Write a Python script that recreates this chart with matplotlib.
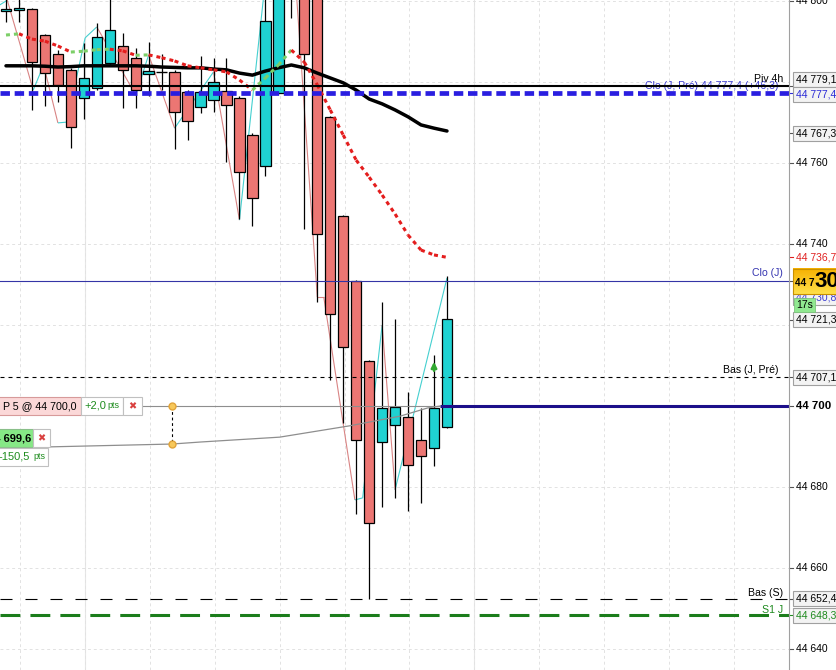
import numpy as np
import matplotlib.pyplot as plt
from matplotlib.patches import Rectangle
from matplotlib.collections import LineCollection
from matplotlib.colors import LinearSegmentedColormap

plt.rcParams['font.family'] = ['Liberation Sans', 'DejaVu Sans']

# candles, oldest -> newest
opens = [44797.5, 44797.8, 44798.0, 44791.6, 44786.9, 44783.0, 44776.0, 44778.5, 44784.7, 44788.9,
         44785.9, 44782.0, 44782.5, 44782.5, 44777.5, 44773.8, 44775.6, 44777.8, 44776.0, 44766.9,
         44759.3, 44777.3, 44812.0, 44806.0, 44803.0, 44771.4, 44746.9, 44730.9, 44711.1, 44691.1,
         44695.3, 44697.3, 44691.6, 44689.6, 44694.8]
highs = [44800.5, 44801.0, 44798.2, 44791.8, 44788.0, 44783.5, 44789.6, 44794.6, 44801.0, 44792.1,
         44788.4, 44789.9, 44786.9, 44783.0, 44778.0, 44786.4, 44785.9, 44785.9, 44776.5, 44767.5,
         44803.0, 44810.0, 44815.0, 44808.0, 44805.0, 44771.6, 44747.2, 44731.2, 44711.4, 44725.7,
         44721.5, 44703.5, 44699.5, 44712.6, 44732.1]
lows = [44794.8, 44794.8, 44773.1, 44774.1, 44775.1, 44763.7, 44770.9, 44778.0, 44784.2, 44773.6,
        44773.6, 44776.5, 44778.0, 44763.5, 44765.7, 44772.3, 44772.6, 44760.2, 44746.2, 44744.4,
        44756.8, 44777.0, 44795.8, 44743.7, 44725.7, 44706.4, 44695.8, 44673.3, 44652.4, 44675.1,
        44677.3, 44674.1, 44676.0, 44685.2, 44694.5]
closes = [44798.0, 44798.3, 44784.9, 44782.2, 44779.3, 44768.9, 44781.0, 44791.1, 44792.8, 44783.0,
          44778.0, 44782.7, 44782.5, 44772.6, 44770.4, 44777.5, 44780.0, 44774.3, 44757.8, 44751.4,
          44795.1, 44806.0, 44806.5, 44786.9, 44742.5, 44722.7, 44714.6, 44691.6, 44671.1, 44699.5,
          44699.8, 44685.4, 44687.7, 44699.5, 44721.5]

# moving averages
fast_ma = [44791.6, 44791.9, 44790.6, 44790.1, 44788.9, 44787.4, 44787.6, 44788.0, 44788.1, 44787.7,
           44786.6, 44786.7, 44786.0, 44785.2, 44784.0, 44783.5, 44783.0, 44782.5, 44780.5, 44778.0,
           44781.0, 44784.2, 44787.9, 44784.9, 44779.3, 44773.1, 44766.9, 44760.7, 44756.5, 44752.1,
           44747.4, 44742.2, 44738.5, 44737.3, 44736.7]
slow_ma = [44784.0, 44784.0, 44784.0, 44783.9, 44783.7, 44783.8, 44784.0, 44784.0, 44784.0, 44784.0,
           44784.0, 44783.9, 44783.7, 44783.6, 44783.5, 44783.5, 44783.2, 44783.0, 44782.2, 44781.7,
           44782.7, 44783.5, 44784.2, 44783.5, 44782.2, 44781.0, 44779.8, 44778.0, 44775.8, 44774.6,
           44773.1, 44771.4, 44769.4, 44768.6, 44767.9]

# zigzag pivots
zz_x = [-0.5, 0.1, 2.1, 2.9, 4.0, 4.7, 6.1, 7.0, 10.0, 11.0, 13.0, 16.0, 18.0, 20.0, 22.4,
        24.0, 24.5, 26.9, 27.5, 29.0, 30.0, 34.0]
zz_y = [44799.0, 44800.2, 44778.0, 44784.2, 44769.9, 44770.1, 44790.9, 44793.6, 44776.8, 44786.7,
        44768.6, 44782.5, 44745.9, 44805.2, 44801.5, 44726.9, 44726.9, 44676.8, 44677.3, 44720.0,
        44679.3, 44731.6]

# levels
piv_4h = 44779.1
clo_prev = 44777.4
clo_day = 44730.8
low_prev = 44707.1
low_week = 44652.4
s1_day = 44648.3
order_price = 44700.0
order_start = 33.5

# stop curve of the order
curve_x = [3.4, 12.8, 15.0, 21.1, 26.5, 30.4, 32.5, 33.5]
curve_y = [44689.9, 44690.6, 44691.1, 44692.3, 44695.1, 44697.5, 44699.5, 44700.0]
handle_x = 12.8
signal_x = 33
signal_y = 44708.0

axis_ticks = [44800, 44760, 44740, 44680, 44660, 44640]
tag_values = [44779.1, 44777.4, 44767.3, 44736.7, 44721.3, 44707.1, 44652.4, 44648.3]
tag_colors = ['black', '#2b2bd6', 'black', '#e02020', 'black', 'black', 'black', '#1f8a1f']
tag_boxed = [True, True, True, False, True, True, True, True]
tag_shift = [1.4, -0.4, 0, 0, 0, 0, 0, 0]

W, H = 837, 670
plot_w = 789
px_per_bar = 12.97
x_left = -6 / px_per_bar
x_right = x_left + plot_w / px_per_bar
y_lo, y_hi = 44634.8, 44800.25

fig = plt.figure(figsize=(W / 100, H / 100), dpi=100)
ax = fig.add_axes([0, 0, plot_w / W, 1])

# grid
ax.set_yticks(np.arange(44640, 44801, 20))
ax.set_xticks(np.arange(1.1, x_right, 5.0))
ax.grid(True, color='#e2e2e2', linestyle=(0, (3, 3)), linewidth=0.7, zorder=0)
ax.tick_params(left=False, bottom=False, labelleft=False, labelbottom=False)
for s in ax.spines.values():
    s.set_visible(False)
for xb in [6.1, 36.1]:
    ax.axvline(xb, color='#e6e6e6', lw=0.8, zorder=0)

# zigzag
zx, zy = np.array(zz_x), np.array(zz_y)
segs = np.stack([np.column_stack([zx[:-1], zy[:-1]]), np.column_stack([zx[1:], zy[1:]])], axis=1)
cols = np.where(zy[1:] > zy[:-1], '#45d0d0', '#d98484')
ax.add_collection(LineCollection(segs, colors=cols, lw=0.8, zorder=2))

# candles
o, h, l, c = map(np.array, (opens, highs, lows, closes))
idx = np.arange(len(o))
up, dn, flat = c > o, c < o, c == o
ax.vlines(idx, l, h, color='black', lw=0.9, zorder=3)
ax.bar(idx[up], (c - o)[up], bottom=o[up], width=0.8, color='#1fd2d2',
       edgecolor='black', lw=0.9, zorder=4)
ax.bar(idx[dn], (o - c)[dn], bottom=c[dn], width=0.8, color='#ec7673',
       edgecolor='black', lw=0.9, zorder=4)
ax.hlines(o[flat], idx[flat] - 0.4, idx[flat] + 0.4, color='black', lw=1.0, zorder=4)

# slow MA
ax.plot(idx, slow_ma, color='black', lw=2.5, zorder=6, solid_capstyle='round')

# fast MA, green when rising, red when falling
fy = np.array(fast_ma)
segs = np.stack([np.column_stack([idx[:-1], fy[:-1]]), np.column_stack([idx[1:], fy[1:]])], axis=1)
cols = np.where(fy[1:] >= fy[:-1], '#7ccf68', '#e41d1d')
ax.add_collection(LineCollection(segs, colors=cols, lw=2.2, linestyles=[(0, (1.3, 1.3))], zorder=6))

# level lines
ax.axhline(clo_prev, color='#2a1ee0', lw=3.4, linestyle=(0, (2.0, 1.0)), zorder=7)
ax.axhline(piv_4h, color='black', lw=1.5, zorder=8)
ax.axhline(clo_day, color='#3434a6', lw=0.8, zorder=7)
ax.axhline(low_prev, color='black', lw=0.8, linestyle=(0, (3.6, 3.6)), zorder=7)
ax.axhline(low_week, color='black', lw=0.8, linestyle=(0, (10.8, 11.7)), zorder=7)
ax.axhline(s1_day, color='#1b7d1b', lw=2.2, linestyle=(0, (6.5, 3.3)), zorder=7)
ax.hlines(order_price, x_left, order_start, color='#8e8e8e', lw=0.8, zorder=7)
ax.hlines(order_price, order_start, x_right, color='#1c0f8a', lw=2.2, zorder=7)
ax.plot(curve_x, curve_y, color='#8e8e8e', lw=0.9, zorder=7)

# handle dots
ax.plot([handle_x, handle_x], [order_price, curve_y[1]], color='black', lw=0.8,
        linestyle=(0, (2.5, 2.5)), zorder=9)
ax.plot([handle_x, handle_x], [order_price, curve_y[1]], 'o', color='#f7c85a',
        markeredgecolor='#e2a43a', markersize=5, zorder=10)

# signal arrow
ax.annotate('', xy=(signal_x, signal_y + 3.6), xytext=(signal_x, signal_y),
            arrowprops=dict(arrowstyle='-|>', color='#32a832', lw=1.8, mutation_scale=8), zorder=9)

# level labels
yt = ax.get_yaxis_transform()
fs = 7.6
ax.annotate('Piv 4h', xy=(783 / plot_w, piv_4h), xycoords=yt, xytext=(0, 1.2),
            textcoords='offset points', ha='right', va='bottom', fontsize=fs, zorder=9)
ax.annotate('Clo (J, Pré) 44 777,4 (+46,3)', xy=(779 / plot_w, clo_prev), xycoords=yt,
            xytext=(0, 5), textcoords='offset points', ha='right', va='center',
            fontsize=fs, color='#3b3bd0', zorder=7.5)
ax.annotate('Clo (J)', xy=(783 / plot_w, clo_day), xycoords=yt, xytext=(0, 2),
            textcoords='offset points', ha='right', va='bottom', fontsize=fs, color='#3434b0', zorder=9)
ax.annotate('Bas (J, Pré)', xy=(779 / plot_w, low_prev), xycoords=yt, xytext=(0, 1.5),
            textcoords='offset points', ha='right', va='bottom', fontsize=fs, zorder=9)
ax.annotate('Bas (S)', xy=(783 / plot_w, low_week), xycoords=yt, xytext=(0, 0.5),
            textcoords='offset points', ha='right', va='bottom', fontsize=fs, zorder=9)
ax.annotate('S1 J', xy=(783 / plot_w, s1_day), xycoords=yt, xytext=(0, 0.5),
            textcoords='offset points', ha='right', va='bottom', fontsize=fs, color='#1f8a1f', zorder=9)

ax.set_xlim(x_left, x_right)
ax.set_ylim(y_lo, y_hi)

# order boxes (x in pixels, y in price)
lab = fig.add_axes([0, 0, plot_w / W, 1], sharey=ax, frameon=False)
lab.set_xlim(0, plot_w)
lab.tick_params(left=False, bottom=False, labelleft=False, labelbottom=False)
lab.patch.set_visible(False)
hh = 2.2
row1, row2, row3 = order_price, curve_y[1] + 1.4, curve_y[1] - 3.2


def box(x0, x1, yc, fc, ec):
    lab.add_patch(Rectangle((x0, yc - hh), x1 - x0, 2 * hh, fc=fc, ec=ec, lw=0.8, zorder=3))


box(-2, 81, row1, '#fbd8d8', '#d79a9a')
box(81, 123, row1, 'white', '#c0c0c0')
box(123, 142, row1, 'white', '#c0c0c0')
lab.text(77, row1, 'P 5 @ 44 700,0', ha='right', va='center', fontsize=7.7, zorder=4)
lab.text(84, row1, '+2,0', ha='left', va='center', fontsize=8, color='#1e8c1e', zorder=4)
lab.text(107, row1, 'pts', ha='left', va='center', fontsize=6.5, color='#1e8c1e', zorder=4)
lab.text(132.5, row1, '✖', ha='center', va='center', fontsize=7, color='#d9403f', zorder=4)

box(-2, 33, row2, '#86e886', '#8abf8a')
box(33, 50, row2, 'white', '#c0c0c0')
lab.text(31, row2, '44 699,6', ha='right', va='center', fontsize=8, weight='bold', zorder=4)
lab.text(41.5, row2, '✖', ha='center', va='center', fontsize=7, color='#d9403f', zorder=4)

box(-2, 48, row3, 'white', '#c0c0c0')
lab.text(30, row3, '-150,5', ha='right', va='center', fontsize=8, color='#1e8c1e', zorder=4)
lab.text(33, row3, 'pts', ha='left', va='center', fontsize=6.5, color='#1e8c1e', zorder=4)

# right price axis
rax = fig.add_axes([plot_w / W, 0, (W - plot_w) / W, 1], sharey=ax)
rax.tick_params(left=False, bottom=False, labelleft=False, labelbottom=False)
for k, s in rax.spines.items():
    s.set_visible(k == 'left')
rax.spines['left'].set_color('#a0a0a0')
rax.spines['left'].set_linewidth(0.8)


def fmt(v, dec=1):
    return f"{v:,.{dec}f}".replace(',', ' ').replace('.', ',')


for v in axis_ticks:
    rax.plot([0, 4], [v, v], color='#555555', lw=0.8)
    rax.text(7, v, fmt(v, 0), ha='left', va='center', fontsize=7.5)

rax.plot([0, 4], [order_price, order_price], color='#555555', lw=0.8)
rax.text(7, order_price, fmt(order_price, 0), ha='left', va='center', fontsize=8.2, weight='bold')

for v, col, boxed, sh in zip(tag_values, tag_colors, tag_boxed, tag_shift):
    yc = v + sh
    rax.plot([0, 4], [v, v], color=col if col != 'black' else '#555555', lw=0.8)
    if boxed:
        rax.add_patch(Rectangle((4.5, yc - 1.85), 60, 3.7, fc='#f3f3f3', ec='#a0a0a0', lw=0.8, zorder=3))
    rax.text(7, yc, fmt(v), ha='left', va='center', fontsize=7.5, color=col, zorder=4)

# hidden tag under the last price box
rax.add_patch(Rectangle((4.5, clo_day - 5.9), 60, 3.7, fc='#f3f3f3', ec='#a0a0a0', lw=0.8, zorder=3))
rax.text(7, clo_day - 4.0, fmt(clo_day), ha='left', va='center', fontsize=7.5, color='#3b3bd0', zorder=4)

# last price box
rax.plot([0, 4], [clo_day, clo_day], color='#555555', lw=0.8)
grad = np.linspace(0, 1, 50).reshape(-1, 1)
cmap = LinearSegmentedColormap.from_list('lp', ['#ffe04a', '#f6b000'])
rax.imshow(grad, extent=[4.5, 60, clo_day - 3.1, clo_day + 3.1], aspect='auto',
           cmap=cmap, origin='lower', zorder=5)
rax.add_patch(Rectangle((4.5, clo_day - 3.1), 60, 6.2, fc='none', ec='#c99000', lw=0.8, zorder=6))
rax.text(6.5, clo_day - 0.4, '44 7', ha='left', va='center', fontsize=7.2, weight='bold', zorder=7)
rax.text(25.5, clo_day, '30', ha='left', va='center', fontsize=16, weight='bold', zorder=7)

# countdown box
rax.add_patch(Rectangle((5, clo_day - 7.7), 21, 3.6, fc='#90e890', ec='#7cc47c', lw=0.6, zorder=6))
rax.text(7.5, clo_day - 5.9, '17s', ha='left', va='center', fontsize=7.5, zorder=7)

rax.set_xlim(0, W - plot_w)
ax.set_ylim(y_lo, y_hi)

fig.savefig('out.png', dpi=100, facecolor='white')
